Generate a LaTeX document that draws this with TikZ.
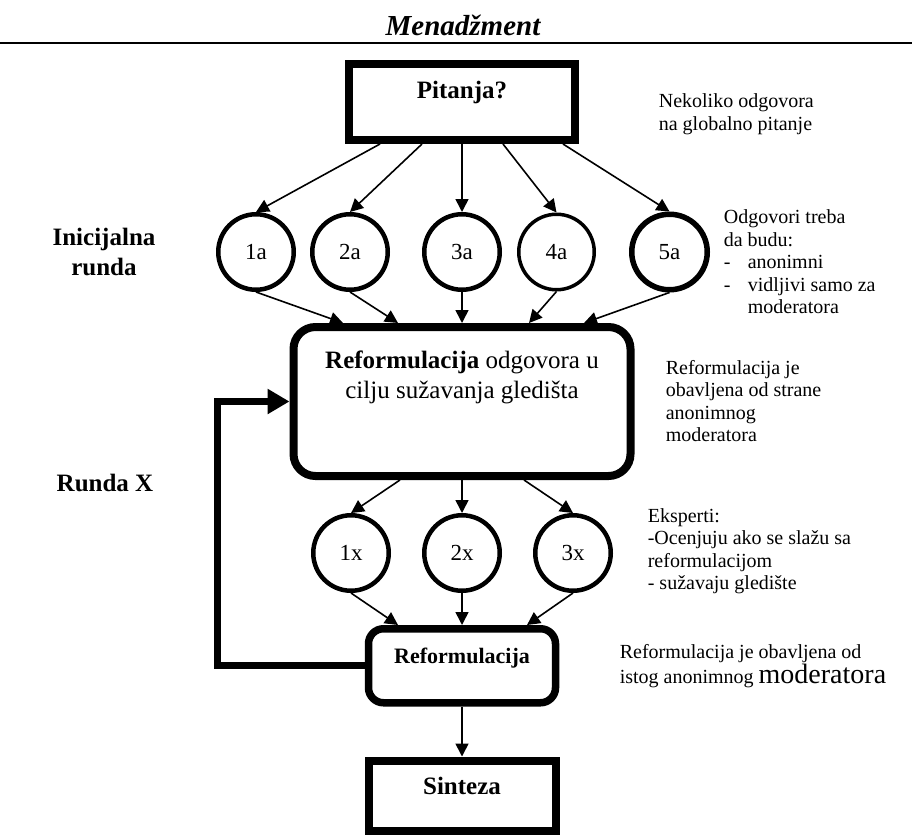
\documentclass[tikz,border=0pt]{standalone}
\usepackage{fontspec}
\setmainfont{Liberation Serif}
\usepackage{tikz}
\usetikzlibrary{arrows.meta,positioning}
\tikzstyle{place}=[circle,line width=4.5pt,draw=black,minimum size=75.5pt,inner sep=0pt,font=\fontsize{23}{27}\selectfont]
\tikzstyle{box}=[rectangle,line width=8pt,draw=black,font=\fontsize{25}{30}\selectfont\bfseries,text height=17pt]
\tikzstyle{rbox}=[rectangle,rounded corners=15pt,line width=7.5pt,draw=black]
\tikzstyle{note}=[inner sep=0pt,anchor=west,align=left,font=\fontsize{20}{22.5}\selectfont]
\tikzstyle{phase}=[inner sep=0pt,align=center,font=\fontsize{25}{30}\selectfont\bfseries]
\tikzstyle{fback}=[line width=7pt,-{Triangle[length=22pt,width=24pt]}]

\begin{document}
\begin{tikzpicture}[x=1pt,y=-1pt,>={Triangle[length=13pt,width=13pt]},line width=1.6pt]
            \useasboundingbox (0,0) rectangle (912,835);

            % Title PART

            \node[font=\fontsize{29}{34}\selectfont\bfseries\itshape] (title) at (463,25) {Menadžment};
            \draw[line width=2.5pt] (0,43) -- (912,43);

            % Question PART

            \node[box,minimum width=226pt,minimum height=76pt,text depth=25pt] (pit) at (462,102) {Pitanja?};
            \node[note] (nek) at (658,114) {Nekoliko odgovora\\na globalno pitanje};

            % Initial round PART

            \node[place,below=68pt of pit] (a3) {3a};
            \node[place,left=32pt of a3] (a2) {2a};
            \node[place,left=14pt of a2] (a1) {1a};
            \node[place,right=15pt of a3,line width=3.5pt] (a4) {4a};
            \node[place,right=33pt of a4,line width=5.5pt] (a5) {5a};

            \node[phase] (ini) at (104,252) {Inicijalna\\runda};
            \node[note] (odg) at (723,262) {Odgovori treba\\da budu:\\\makebox[24pt][l]{-}anonimni\\\makebox[24pt][l]{-}vidljivi samo za\\\hspace*{24pt}moderatora};

            \path[->] ([xshift=-82pt]pit.south) edge (a1.north);
            \path[->] ([xshift=-40pt]pit.south) edge (a2.north);
            \path[->] (pit.south) edge (a3.north);
            \path[->] ([xshift=41pt]pit.south) edge (a4.north);
            \path[->] ([xshift=101pt]pit.south) edge (a5.north);

            % Reformulation PART

            \node[rbox,rounded corners=22pt,line width=8pt,minimum width=337pt,minimum height=149pt,
                  align=center,font=\fontsize{25}{30}\selectfont,below=31pt of a3] (ref) {\textbf{Reformulacija} odgovora u\\cilju sužavanja gledišta\\[24pt]\mbox{}};
            \node[note] (refn) at (665,401) {Reformulacija je\\obavljena od strane\\anonimnog\\moderatora};

            \path[->] (a1.south) edge ([xshift=-119pt]ref.north);
            \path[->] (a2.south) edge ([xshift=-64pt]ref.north);
            \path[->] (a3.south) edge (ref.north);
            \path[->] (a4.south) edge ([xshift=67pt]ref.north);
            \path[->] (a5.south) edge ([xshift=122pt]ref.north);

            % Round X PART

            \node[place,below=33pt of ref] (x2) {2x};
            \node[place,left=31pt of x2] (x1) {1x};
            \node[place,right=31pt of x2] (x3) {3x};

            \node[phase] (rx) at (105,483) {Runda X};
            \node[note] (eks) at (647,551) {Eksperti:\\-Ocenjuju ako se slažu sa\\reformulacijom\\- sužavaju gledište};

            \path[->] ([xshift=-62pt]ref.south) edge (x1.north);
            \path[->] (ref.south) edge (x2.north);
            \path[->] ([xshift=62pt]ref.south) edge (x3.north);

            \node[rbox,minimum width=187pt,minimum height=74pt,font=\fontsize{22}{26}\selectfont\bfseries,
                  text height=15pt,text depth=19pt,below=32pt of x2] (ref2) {Reformulacija};
            \node[note] (refn2) at (619,666) {Reformulacija je obavljena od\\istog anonimnog {\fontsize{28}{28}\selectfont moderatora}};

            \path[->] (x1.south) edge ([xshift=-64pt]ref2.north);
            \path[->] (x2.south) edge (ref2.north);
            \path[->] (x3.south) edge ([xshift=65pt]ref2.north);

            % Synthesis PART

            \node[box,minimum width=187pt,minimum height=70pt,text depth=19pt,below=50pt of ref2] (sint) {Sinteza};

            \path[->] (ref2.south) edge (sint.north);

            % Feedback of rounds

            \draw[fback] (ref2.west) -- ++(-147,0) |- (ref.west);

        \end{tikzpicture}
\end{document}
